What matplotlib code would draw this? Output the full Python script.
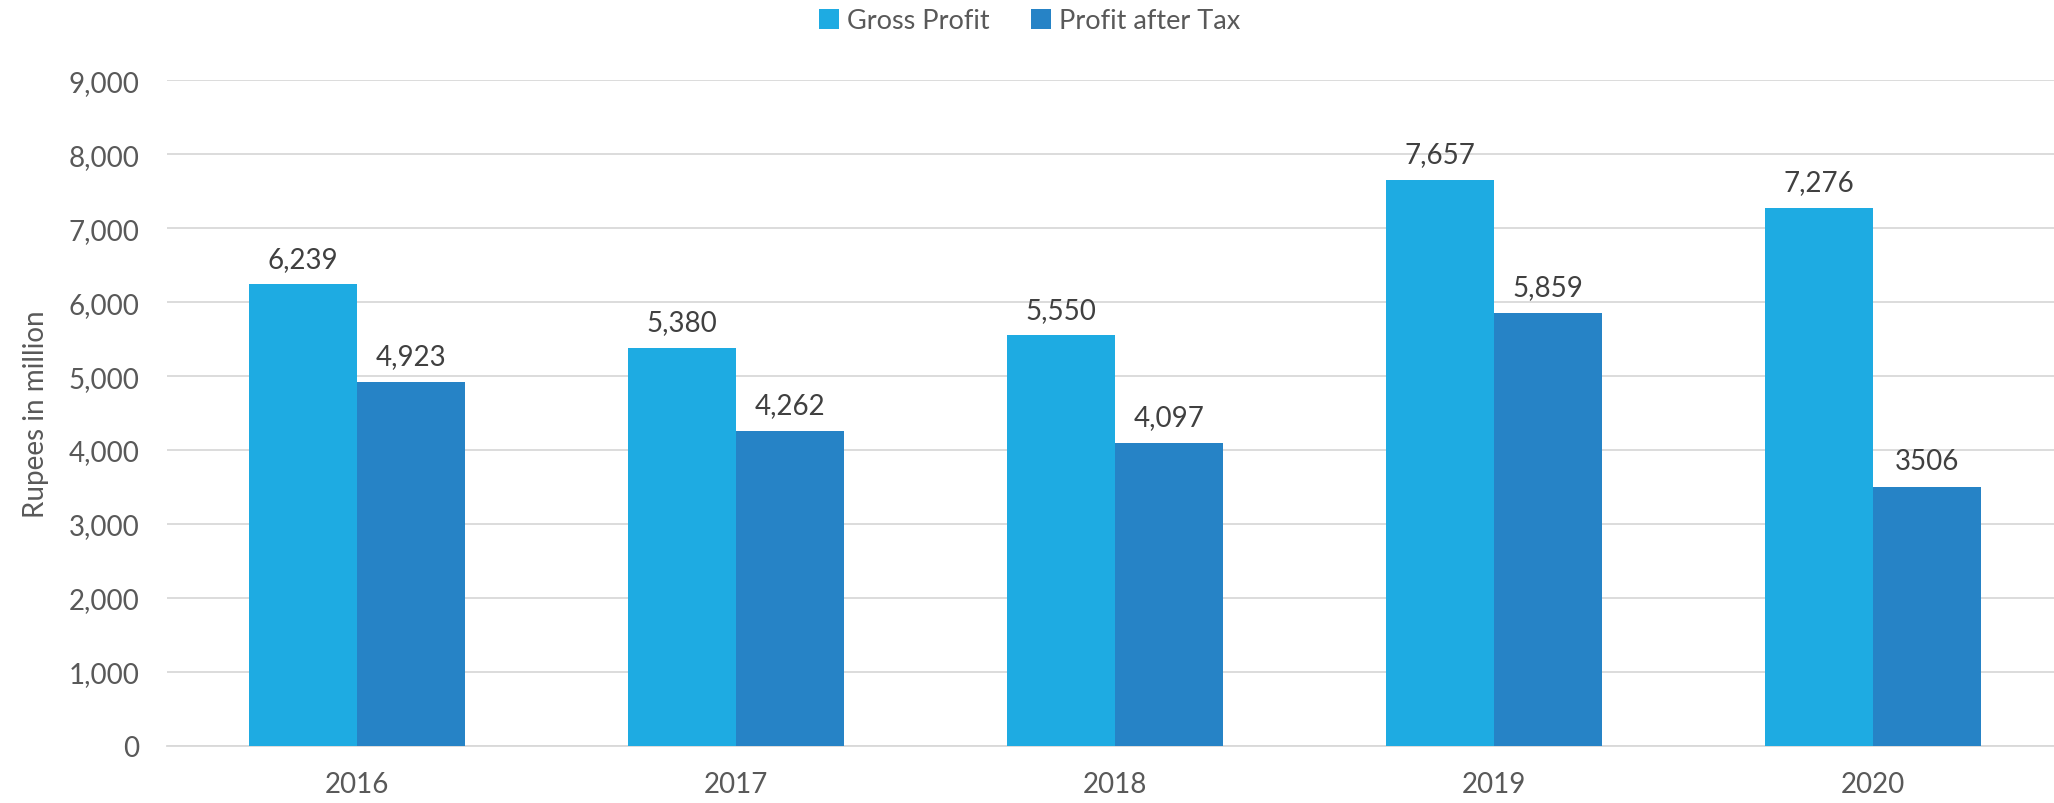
import numpy as np
import matplotlib.pyplot as plt

plt.rcParams['font.family'] = ['Lato', 'DejaVu Sans']

# Data
years = ['2016', '2017', '2018', '2019', '2020']
gross_profit = [6239, 5380, 5550, 7657, 7276]
profit_after_tax = [4923, 4262, 4097, 5859, 3506]
gross_labels = ['6,239', '5,380', '5,550', '7,657', '7,276']
pat_labels = ['4,923', '4,262', '4,097', '5,859', '3506']

fig = plt.figure(figsize=(20.54, 8.04), dpi=100)
# plot area runs slightly past the right edge of the image, as in the original
ax = fig.add_axes([0.0813, 0.071, 0.923, 0.828])

x = np.arange(len(years))
width = 0.285
b1 = ax.bar(x - width/2, gross_profit, width, color='#1EABE2', label='Gross Profit', zorder=3)
b2 = ax.bar(x + width/2, profit_after_tax, width, color='#2683C6', label='Profit after Tax', zorder=3)

# value labels above bars
for bars, labels in [(b1, gross_labels), (b2, pat_labels)]:
    for rect, lab in zip(bars, labels):
        ax.annotate(lab, (rect.get_x() + rect.get_width()/2, rect.get_height()),
                    xytext=(0, 9), textcoords='offset points', ha='center', va='bottom',
                    fontsize=20, color='#404040')

ax.set_xlim(-0.5, len(years) - 0.5)
ax.set_ylim(0, 9000)
ax.set_yticks(np.arange(0, 9001, 1000))
ax.set_yticklabels([f'{v:,}' for v in range(0, 9001, 1000)])
ax.set_xticks(x)
ax.set_xticklabels(years)
ax.tick_params(axis='both', length=0, labelsize=20, labelcolor='#595959')
ax.tick_params(axis='y', pad=20)
ax.tick_params(axis='x', pad=18)

ax.grid(axis='y', color='#D9D9D9', linewidth=1.3, zorder=0)
for s in ['top', 'right', 'left']:
    ax.spines[s].set_visible(False)
ax.spines['bottom'].set_color('#D9D9D9')
ax.spines['bottom'].set_linewidth(1.3)

ax.set_ylabel('Rupees in million', fontsize=20, color='#595959', labelpad=14)

ax.legend(loc='center', bbox_to_anchor=(0.455, 1.089), ncol=2, frameon=False,
          fontsize=19.5, labelcolor='#595959', handlelength=0.75, handleheight=0.75,
          handletextpad=0.3, columnspacing=1.5)

fig.savefig('out.png', dpi=100)
